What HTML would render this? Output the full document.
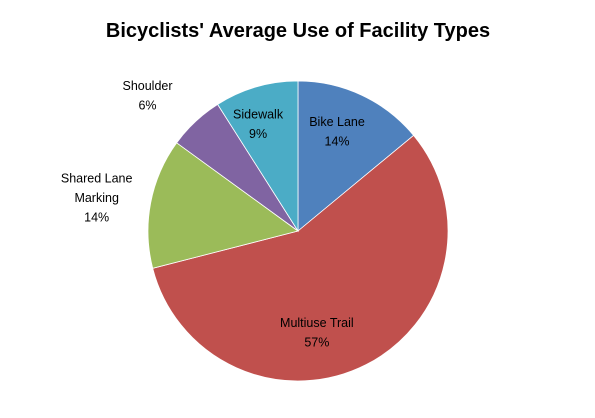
<!DOCTYPE html>
<html><head><meta charset="utf-8"><style>
body{margin:0;background:#fff;}
svg{display:block;font-family:"Liberation Sans",sans-serif;}
</style></head><body>
<svg id="chart" width="595" height="418">
<text x="298" y="37" text-anchor="middle" font-size="20" font-weight="bold" fill="#000">Bicyclists' Average Use of Facility Types</text>
<g id="slices"></g><g id="labels"></g>
</svg>
<script>
const categories=["Bike Lane","Multiuse Trail","Shared Lane Marking","Shoulder","Sidewalk"];
const values=[14,57,14,6,9];
const colors=["#4F81BD","#C0504D","#9BBB59","#8064A2","#4BACC6"];
const labelLines=[["Bike Lane"],["Multiuse Trail"],["Shared Lane","Marking"],["Shoulder"],["Sidewalk"]];
const labelDist=[0.71,0.69,1.36,1.35,0.76];
const labelShift=[-3.7,16.5,-1.5,-4.8,-4.3];
const cx=298,cy=231,r=150,NS="http://www.w3.org/2000/svg";
const total=values.reduce((a,b)=>a+b,0);
const gS=document.getElementById('slices'),gL=document.getElementById('labels');
function pt(a,rr){return [cx+rr*Math.sin(a),cy-rr*Math.cos(a)];}
let acc=0;
values.forEach((v,i)=>{
 const a0=acc/total*2*Math.PI;acc+=v;const a1=acc/total*2*Math.PI;
 const p0=pt(a0,r),p1=pt(a1,r);
 const p=document.createElementNS(NS,'path');
 p.setAttribute('d',`M${cx},${cy}L${p0[0]},${p0[1]}A${r},${r} 0 ${a1-a0>Math.PI?1:0} 1 ${p1[0]},${p1[1]}Z`);
 p.setAttribute('fill',colors[i]);p.setAttribute('stroke','#fff');p.setAttribute('stroke-width','0.8');
 
 
 gS.appendChild(p);
 const am=(a0+a1)/2+labelShift[i]*Math.PI/180,lp=pt(am,r*labelDist[i]);
 const lines=labelLines[i].concat([v+'%']);
 const t=document.createElementNS(NS,'text');
 t.setAttribute('text-anchor','middle');t.setAttribute('font-size','12.5');t.setAttribute('fill','#000');
 
 
 const y0=lp[1]-(lines.length-1)*19.5/2+4;
 lines.forEach((s,k)=>{const ts=document.createElementNS(NS,'tspan');ts.setAttribute('x',lp[0]);ts.setAttribute('y',y0+k*19.5);ts.textContent=s;t.appendChild(ts);});
 gL.appendChild(t);
});
</script>
</body></html>
